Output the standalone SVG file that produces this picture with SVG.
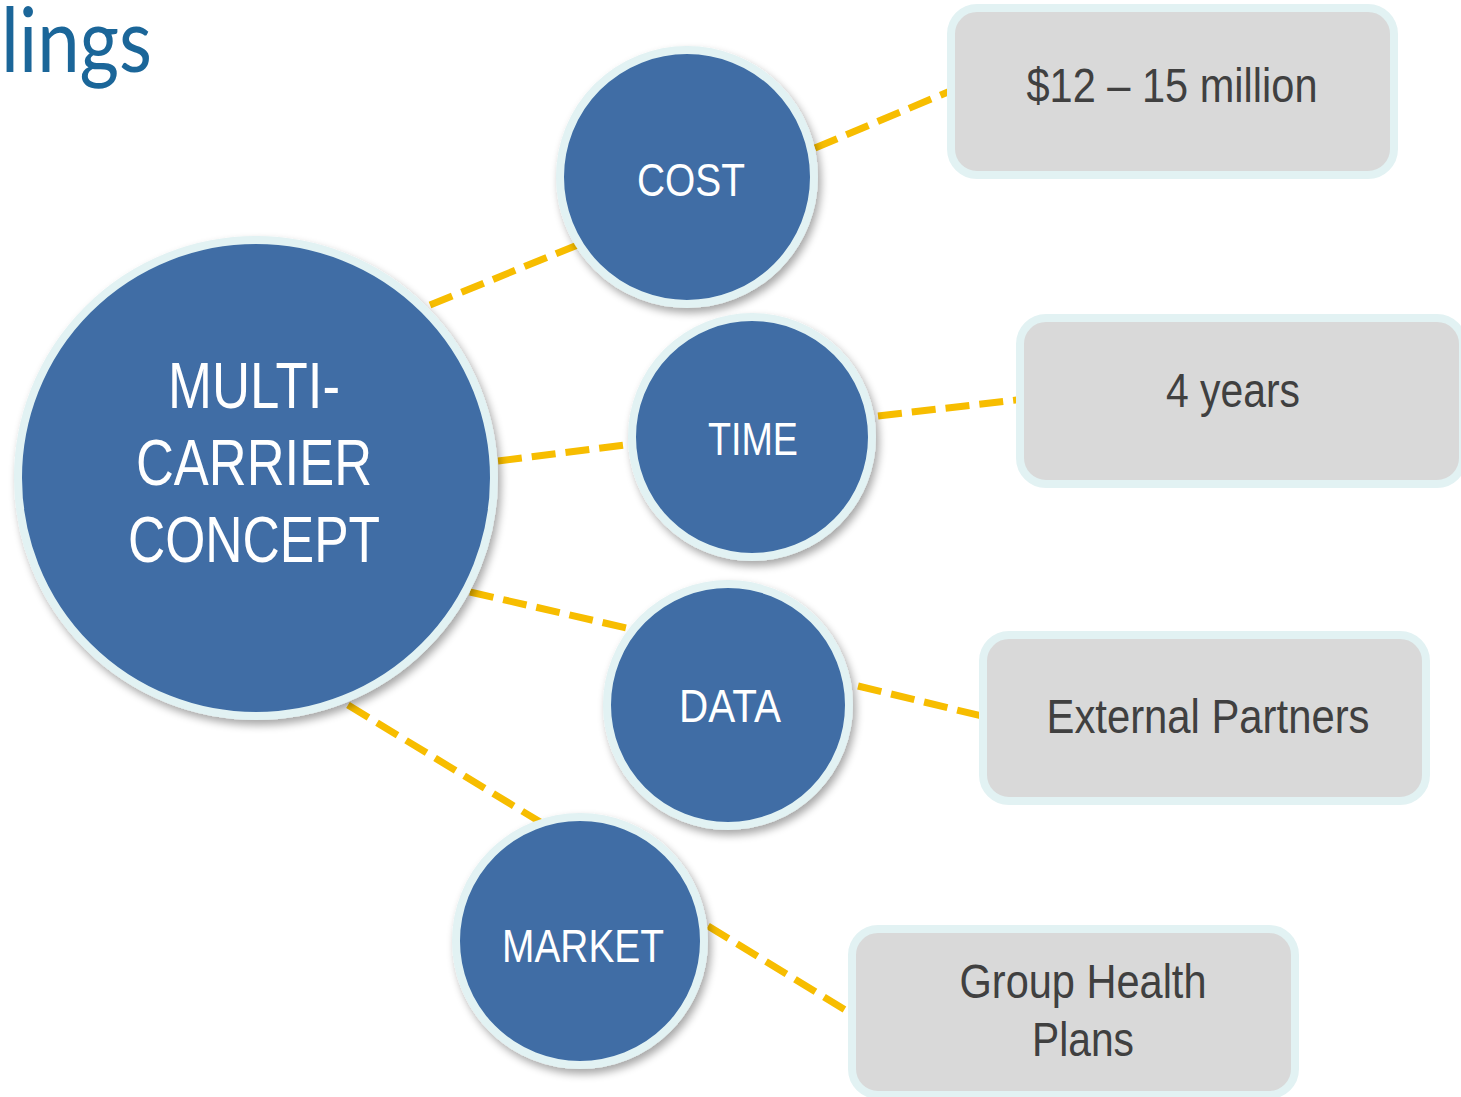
<svg xmlns="http://www.w3.org/2000/svg" width="1461" height="1097" viewBox="0 0 1461 1097">
<defs>
<filter id="sh" x="-20%" y="-20%" width="140%" height="140%">
<feGaussianBlur in="SourceAlpha" stdDeviation="4"/>
<feOffset dx="3" dy="5" result="b"/>
<feComponentTransfer><feFuncA type="linear" slope="0.35"/></feComponentTransfer>
<feMerge><feMergeNode/><feMergeNode in="SourceGraphic"/></feMerge>
</filter>
<style>
.circ{fill:#3f6da5;stroke:#e2f2f3;stroke-width:8;filter:url(#sh)}
.box{fill:#d9d9d9;stroke:#e2f2f3;stroke-width:8}
.ct{fill:#ffffff;font-family:"Liberation Sans Narrow","Arial Narrow","Liberation Sans",sans-serif;text-anchor:middle}
.bt{fill:#404040;font-family:"Liberation Sans Narrow","Arial Narrow","Liberation Sans",sans-serif;text-anchor:middle;font-size:49px}
.con{stroke:#f7bd00;stroke-width:7;stroke-dasharray:24 10;fill:none}
</style>
</defs>
<rect width="1461" height="1097" fill="#ffffff"/>
<text x="1" y="72" font-family="Lato,'Open Sans',sans-serif" font-weight="400" font-size="90" fill="#1b6699" textLength="151" lengthAdjust="spacingAndGlyphs">lings</text>
<g id="connectors">
<line class="con" x1="430" y1="305" x2="580" y2="244"/>
<line class="con" x1="815" y1="148" x2="955" y2="89"/>
<line class="con" x1="498" y1="461" x2="640" y2="443"/>
<line class="con" x1="878" y1="416" x2="1025" y2="399"/>
<line class="con" x1="470" y1="592" x2="635" y2="630"/>
<line class="con" x1="858" y1="686" x2="990" y2="718"/>
<line class="con" x1="348" y1="705" x2="545" y2="825"/>
<line class="con" x1="708" y1="926" x2="855" y2="1016"/>
</g>
<g id="box-cost">
<rect class="box" x="951" y="8" width="443" height="167" rx="26"/>
<text class="bt" x="1172" y="102" textLength="291" lengthAdjust="spacingAndGlyphs">$12 – 15 million</text>
</g>
<g id="box-time">
<rect class="box" x="1020" y="318" width="443" height="166" rx="26"/>
<text class="bt" x="1233" y="407" textLength="134" lengthAdjust="spacingAndGlyphs">4 years</text>
</g>
<g id="box-data">
<rect class="box" x="983" y="635" width="443" height="166" rx="26"/>
<text class="bt" x="1208" y="733" textLength="323" lengthAdjust="spacingAndGlyphs">External Partners</text>
</g>
<g id="box-market">
<rect class="box" x="852" y="929" width="443" height="166" rx="26"/>
<text class="bt" x="1083" y="998" textLength="247" lengthAdjust="spacingAndGlyphs">Group Health</text>
<text class="bt" x="1083" y="1056" textLength="102" lengthAdjust="spacingAndGlyphs">Plans</text>
</g>
<g id="node-main">
<circle class="circ" cx="256" cy="478" r="238"/>
<text class="ct" x="254" y="408" font-size="64" textLength="172" lengthAdjust="spacingAndGlyphs">MULTI-</text>
<text class="ct" x="254" y="485" font-size="64" textLength="236" lengthAdjust="spacingAndGlyphs">CARRIER</text>
<text class="ct" x="254" y="562" font-size="64" textLength="252" lengthAdjust="spacingAndGlyphs">CONCEPT</text>
</g>
<g id="node-cost">
<circle class="circ" cx="687" cy="177" r="127"/>
<text class="ct" x="691" y="196" font-size="47" textLength="108" lengthAdjust="spacingAndGlyphs">COST</text>
</g>
<g id="node-time">
<circle class="circ" cx="752" cy="437" r="120"/>
<text class="ct" x="753" y="455" font-size="47" textLength="90" lengthAdjust="spacingAndGlyphs">TIME</text>
</g>
<g id="node-data">
<circle class="circ" cx="728" cy="705" r="121"/>
<text class="ct" x="730" y="722" font-size="47" textLength="102" lengthAdjust="spacingAndGlyphs">DATA</text>
</g>
<g id="node-market">
<circle class="circ" cx="580" cy="941" r="124"/>
<text class="ct" x="583" y="962" font-size="47" textLength="162" lengthAdjust="spacingAndGlyphs">MARKET</text>
</g>
</svg>
